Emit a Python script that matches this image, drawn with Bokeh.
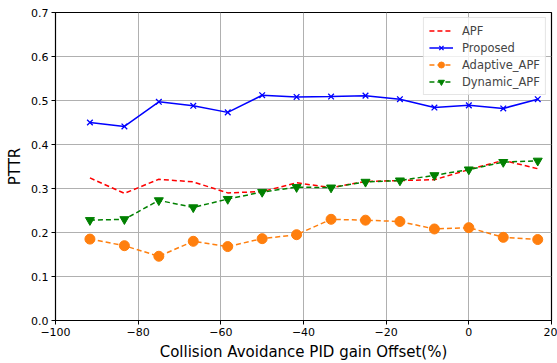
from bokeh.plotting import figure
from bokeh.models import Range1d, FixedTicker, Legend, LegendItem
from bokeh.embed import file_html
from bokeh.resources import INLINE

# PID gain offset (%) for each test run
offset = [-91.67, -83.33, -75.0, -66.67, -58.33, -50.0, -41.67,
          -33.33, -25.0, -16.67, -8.33, 0.0, 8.33, 16.67]

apf = [0.324, 0.289, 0.321, 0.315, 0.290, 0.293, 0.313,
       0.302, 0.316, 0.318, 0.320, 0.343, 0.364, 0.345]
proposed = [0.450, 0.441, 0.497, 0.488, 0.473, 0.512, 0.508,
            0.509, 0.511, 0.503, 0.484, 0.489, 0.482, 0.503]
adaptive_apf = [0.185, 0.170, 0.146, 0.180, 0.168, 0.186, 0.195,
                0.230, 0.228, 0.225, 0.208, 0.211, 0.189, 0.184]
dynamic_apf = [0.228, 0.230, 0.273, 0.257, 0.276, 0.292, 0.303,
               0.302, 0.315, 0.318, 0.330, 0.343, 0.360, 0.363]

x_ticks = [-100, -80, -60, -40, -20, 0, 20]
y_ticks = [0.0, 0.1, 0.2, 0.3, 0.4, 0.5, 0.6, 0.7]

FONT = "DejaVu Sans"

p = figure(width=557, height=363, output_backend="svg", toolbar_location=None,
           x_range=Range1d(-100, 20), y_range=Range1d(0, 0.7),
           min_border_left=55, min_border_right=6, min_border_top=12,
           min_border_bottom=41)
p.background_fill_color = "white"
p.border_fill_color = "white"
p.outline_line_color = "black"
p.outline_line_width = 1.2

for ax in (p.xaxis[0], p.yaxis[0]):
    ax.axis_line_color = "black"
    ax.major_tick_line_color = "black"
    ax.major_tick_out = 4
    ax.major_tick_in = 0
    ax.minor_tick_line_color = None
    ax.major_label_text_font = FONT
    ax.major_label_text_font_size = "11px"
    ax.major_label_text_color = "black"
    ax.axis_label_text_font = FONT
    ax.axis_label_text_font_size = "15px"
    ax.axis_label_text_font_style = "normal"
    ax.axis_label_text_color = "black"

p.xaxis.ticker = FixedTicker(ticks=x_ticks)
p.yaxis.ticker = FixedTicker(ticks=y_ticks)
p.xaxis.major_label_overrides = {t: (str(t).replace("-", "\u2212")) for t in x_ticks}
p.yaxis.major_label_overrides = {t: f"{t:.1f}" for t in y_ticks}
p.xaxis.axis_label = "Collision Avoidance PID gain Offset(%)"
p.yaxis.axis_label = "PTTR"
p.xaxis.major_label_standoff = 3
p.yaxis.major_label_standoff = 3
p.xaxis.axis_label_standoff = 4
p.yaxis.axis_label_standoff = 4

p.grid.grid_line_color = "#b0b0b0"
p.grid.grid_line_width = 1

DASH = "5 3"

l_apf = p.line(offset, apf, color="#ff0000", line_width=1.5, line_dash=DASH)

l_prop = p.line(offset, proposed, color="#0000ff", line_width=1.5)
m_prop = p.scatter(offset, proposed, marker="x", size=8, line_color="#0000ff",
                   line_width=1.3)

l_ada = p.line(offset, adaptive_apf, color="#ff7f0e", line_width=1.5, line_dash=DASH)
m_ada = p.scatter(offset, adaptive_apf, marker="circle", size=10,
                  fill_color="#ff7f0e", line_color="#ff7f0e")

l_dyn = p.line(offset, dynamic_apf, color="#008000", line_width=1.5, line_dash=DASH)
m_dyn = p.scatter(offset, dynamic_apf, marker="inverted_triangle", size=9,
                  fill_color="#008000", line_color="#008000")

legend = Legend(items=[
    LegendItem(label="APF", renderers=[l_apf]),
    LegendItem(label="Proposed", renderers=[l_prop, m_prop]),
    LegendItem(label="Adaptive_APF", renderers=[l_ada, m_ada]),
    LegendItem(label="Dynamic_APF", renderers=[l_dyn, m_dyn]),
], location="top_right")
legend.margin = 5
legend.padding = 5
legend.spacing = 2
legend.glyph_height = 15
legend.glyph_width = 24
legend.label_standoff = 9
legend.label_text_font = FONT
legend.label_text_font_size = "11.5px"
legend.label_height = 15
legend.border_line_color = "#cccccc"
legend.border_line_width = 1
legend.background_fill_alpha = 0.8
p.add_layout(legend, "center")

open("out.html", "w").write(file_html(p, INLINE))
